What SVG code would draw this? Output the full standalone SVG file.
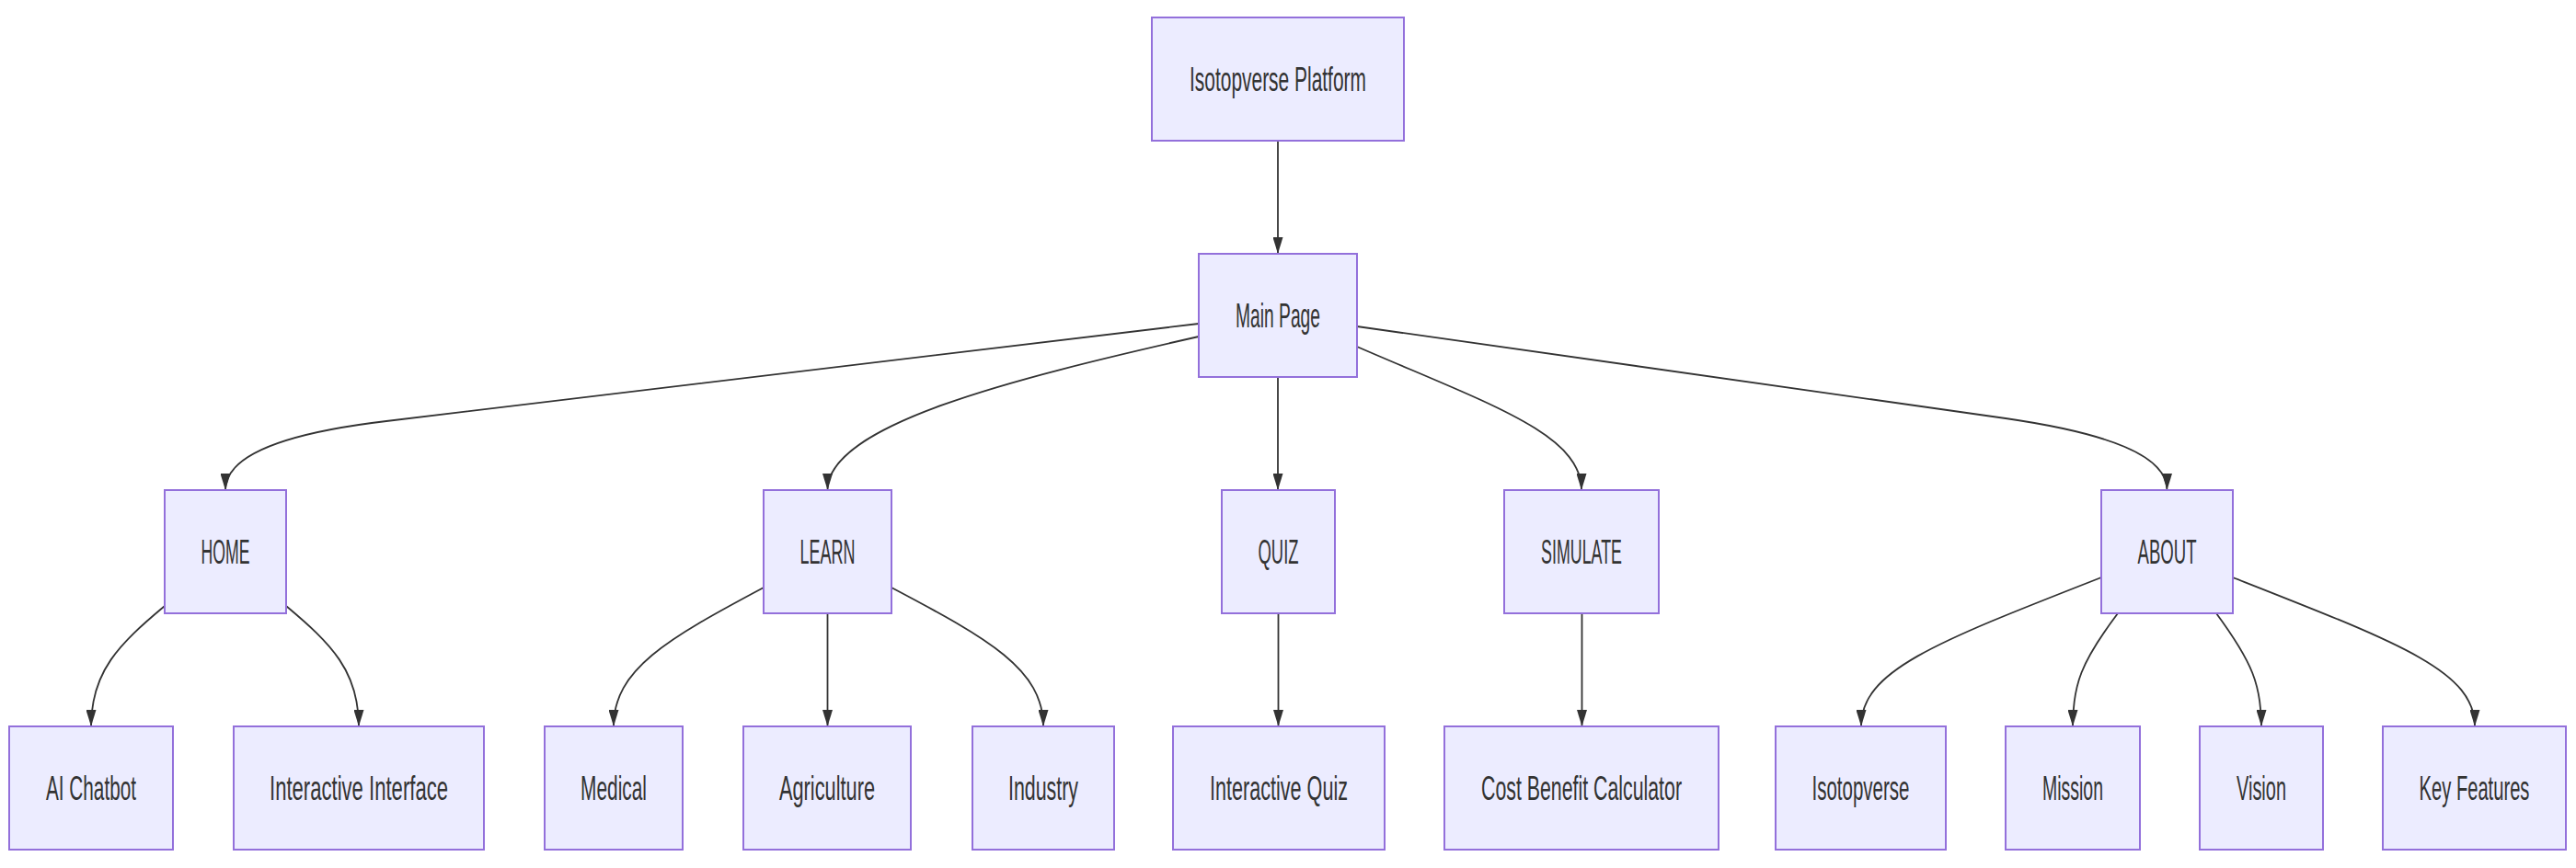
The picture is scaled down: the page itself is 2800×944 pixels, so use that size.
<svg xmlns="http://www.w3.org/2000/svg" width="2800" height="944" viewBox="0 0 2800 944">
<style>
.node rect{fill:#ECECFF;stroke:#9370DB;stroke-width:2}
.node text{font-family:"Liberation Sans",Arial,sans-serif;font-size:37px;fill:#333333;text-anchor:middle}
.edge{fill:none;stroke:#333333;stroke-width:1.8}
</style>
<defs>
<marker id="arrow" viewBox="0 0 18 11" markerWidth="18" markerHeight="11" refX="18" refY="5.5" orient="auto" markerUnits="userSpaceOnUse">
<path d="M0,0 L18,5.5 L0,11 z" fill="#333333"/>
</marker>
</defs>
<rect width="2800" height="944" fill="#ffffff"/>
<g id="connectors">
<path class="edge" marker-end="url(#arrow)" d="M1389,153 L1389,276"/>
<path class="edge" marker-end="url(#arrow)" d="M1303,352 L420,458 C310,471 245,495 245,533"/>
<path class="edge" marker-end="url(#arrow)" d="M1303,366 C1100,412 899.5,462 899.5,533"/>
<path class="edge" marker-end="url(#arrow)" d="M1389,410 L1389,533"/>
<path class="edge" marker-end="url(#arrow)" d="M1475,377 C1620,440 1719,472 1719,533"/>
<path class="edge" marker-end="url(#arrow)" d="M1475,355 L2180,455 C2290,471 2355.5,495 2355.5,533"/>
<path class="edge" marker-end="url(#arrow)" d="M179,659 C130,700 99,730 99,790"/>
<path class="edge" marker-end="url(#arrow)" d="M311,659 C360,700 390,730 390,790"/>
<path class="edge" marker-end="url(#arrow)" d="M830,639 C725,695 667,728 667,790"/>
<path class="edge" marker-end="url(#arrow)" d="M899.5,667 L899.5,790"/>
<path class="edge" marker-end="url(#arrow)" d="M969,639 C1075,695 1134,728 1134,790"/>
<path class="edge" marker-end="url(#arrow)" d="M1389.5,667 L1389.5,790"/>
<path class="edge" marker-end="url(#arrow)" d="M1719.5,667 L1719.5,790"/>
<path class="edge" marker-end="url(#arrow)" d="M2284,628 C2100,700 2023,730 2023,790"/>
<path class="edge" marker-end="url(#arrow)" d="M2302,667 C2262,720 2253,745 2253,790"/>
<path class="edge" marker-end="url(#arrow)" d="M2409,667 C2448,720 2458,745 2458,790"/>
<path class="edge" marker-end="url(#arrow)" d="M2427,628 C2610,700 2690,730 2690,790"/>
</g>
<g id="node-platform" class="node"><rect x="1252" y="19" width="274" height="134"/><text x="1389" y="99" textLength="192" lengthAdjust="spacingAndGlyphs">Isotopverse Platform</text></g>
<g id="node-main" class="node"><rect x="1303" y="276" width="172" height="134"/><text x="1389" y="356" textLength="92" lengthAdjust="spacingAndGlyphs">Main Page</text></g>
<g id="node-home" class="node"><rect x="179" y="533" width="132" height="134"/><text x="245" y="613" textLength="53" lengthAdjust="spacingAndGlyphs">HOME</text></g>
<g id="node-learn" class="node"><rect x="830" y="533" width="139" height="134"/><text x="899.5" y="613" textLength="60" lengthAdjust="spacingAndGlyphs">LEARN</text></g>
<g id="node-quiz" class="node"><rect x="1328" y="533" width="123" height="134"/><text x="1389.5" y="613" textLength="44" lengthAdjust="spacingAndGlyphs">QUIZ</text></g>
<g id="node-simulate" class="node"><rect x="1635" y="533" width="168" height="134"/><text x="1719" y="613" textLength="88" lengthAdjust="spacingAndGlyphs">SIMULATE</text></g>
<g id="node-about" class="node"><rect x="2284" y="533" width="143" height="134"/><text x="2355.5" y="613" textLength="64" lengthAdjust="spacingAndGlyphs">ABOUT</text></g>
<g id="node-aichatbot" class="node"><rect x="10" y="790" width="178" height="134"/><text x="99" y="870" textLength="98" lengthAdjust="spacingAndGlyphs">AI Chatbot</text></g>
<g id="node-interface" class="node"><rect x="254" y="790" width="272" height="134"/><text x="390" y="870" textLength="194" lengthAdjust="spacingAndGlyphs">Interactive Interface</text></g>
<g id="node-medical" class="node"><rect x="592" y="790" width="150" height="134"/><text x="667" y="870" textLength="72" lengthAdjust="spacingAndGlyphs">Medical</text></g>
<g id="node-agriculture" class="node"><rect x="808" y="790" width="182" height="134"/><text x="899" y="870" textLength="104" lengthAdjust="spacingAndGlyphs">Agriculture</text></g>
<g id="node-industry" class="node"><rect x="1057" y="790" width="154" height="134"/><text x="1134" y="870" textLength="76" lengthAdjust="spacingAndGlyphs">Industry</text></g>
<g id="node-iquiz" class="node"><rect x="1275" y="790" width="230" height="134"/><text x="1390" y="870" textLength="150" lengthAdjust="spacingAndGlyphs">Interactive Quiz</text></g>
<g id="node-cost" class="node"><rect x="1570" y="790" width="298" height="134"/><text x="1719" y="870" textLength="218" lengthAdjust="spacingAndGlyphs">Cost Benefit Calculator</text></g>
<g id="node-isotopverse" class="node"><rect x="1930" y="790" width="185" height="134"/><text x="2022.5" y="870" textLength="106" lengthAdjust="spacingAndGlyphs">Isotopverse</text></g>
<g id="node-mission" class="node"><rect x="2180" y="790" width="146" height="134"/><text x="2253" y="870" textLength="66" lengthAdjust="spacingAndGlyphs">Mission</text></g>
<g id="node-vision" class="node"><rect x="2391" y="790" width="134" height="134"/><text x="2458" y="870" textLength="54" lengthAdjust="spacingAndGlyphs">Vision</text></g>
<g id="node-keyfeatures" class="node"><rect x="2590" y="790" width="199" height="134"/><text x="0" y="0" transform="translate(2689.5,870) scale(0.545,1)">Key Features</text></g>
</svg>
